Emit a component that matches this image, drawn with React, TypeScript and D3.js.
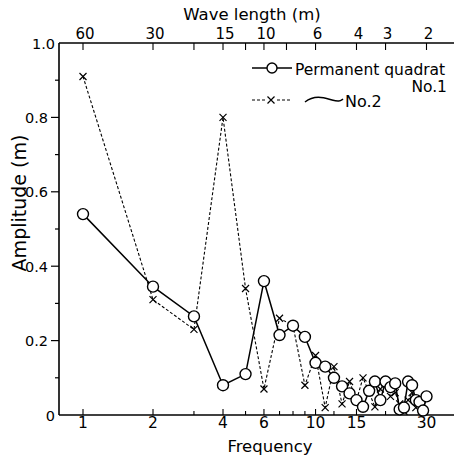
import * as d3 from 'd3';
import React, { useRef, useEffect } from 'react';

// frequency (harmonic number) and amplitude (m)
const freq1 = [1, 2, 3, 4, 5, 6, 7, 8, 9, 10, 11, 12, 13, 14, 15, 16, 17, 18, 19, 20, 21, 22, 23, 24, 25, 26, 27, 28, 29, 30];
const quadrat1 = [0.54, 0.345, 0.265, 0.08, 0.11, 0.36, 0.215, 0.24, 0.21, 0.14, 0.13, 0.1, 0.077, 0.058, 0.04, 0.022, 0.065, 0.09, 0.04, 0.09, 0.075, 0.085, 0.015, 0.02, 0.09, 0.08, 0.04, 0.035, 0.012, 0.05];

const freq2 = [1, 2, 3, 4, 5, 6, 7, 8, 9, 10, 11, 12, 13, 14, 15, 16, 17, 18, 19, 20, 21, 22, 23, 24, 25, 26, 27, 28, 29];
const quadrat2 = [0.91, 0.31, 0.23, 0.8, 0.34, 0.07, 0.26, 0.24, 0.08, 0.16, 0.02, 0.13, 0.03, 0.09, 0.04, 0.1, 0.06, 0.022, 0.07, 0.09, 0.05, 0.06, 0.03, 0.01, 0.04, 0.06, 0.02, 0.04, 0.03];

const freqLabels = [1, 2, 4, 6, 10, 15, 30];
const freqTicks = [1, 2, 3, 4, 5, 6, 7, 8, 9, 10, 12, 15, 20, 30];
const waveLabels = [60, 30, 15, 10, 6, 4, 3, 2];
const waveTicks = [60, 30, 20, 15, 12, 10, 8, 6, 4, 3, 2];
const ampTicks = [0, 0.2, 0.4, 0.6, 0.8, 1.0];
const ampMinor = [0.1, 0.3, 0.5, 0.7, 0.9];

const FONT = 'DejaVu Sans, sans-serif';

function SpectrumChart({ width, height }) {
  const ref = useRef(null);

  useEffect(() => {
    const svg = d3.select(ref.current);
    svg.selectAll('*').remove();
    svg.attr('width', width).attr('height', height);

    const left = 59, top = 43, bottom = 415, right = width;

    const x = d3.scaleLog().domain([1, 30]).range([83, 426.5]);
    const y = d3.scaleLinear().domain([0, 1]).range([bottom, top]);

    const g = svg.append('g').attr('font-family', FONT).attr('fill', '#000');

    // frame lines
    g.append('line').attr('x1', left).attr('x2', right).attr('y1', bottom).attr('y2', bottom)
      .attr('stroke', '#000').attr('stroke-width', 1.6);
    g.append('line').attr('x1', left).attr('x2', right).attr('y1', top).attr('y2', top)
      .attr('stroke', '#000').attr('stroke-width', 1.6);
    g.append('line').attr('x1', left).attr('x2', left).attr('y1', top).attr('y2', bottom)
      .attr('stroke', '#000').attr('stroke-width', 1.6);

    // left axis; 0 and 1.0 sit on the frame lines, no tick of their own
    const inner = ampTicks.filter(d => d > 0 && d < 1);
    g.selectAll('.ymaj').data(inner).enter().append('line')
      .attr('x1', left - 8).attr('x2', left)
      .attr('y1', d => y(d)).attr('y2', d => y(d))
      .attr('stroke', '#000').attr('stroke-width', 1.2);
    g.selectAll('.ymin').data(ampMinor).enter().append('line')
      .attr('x1', left - 4).attr('x2', left)
      .attr('y1', d => y(d)).attr('y2', d => y(d))
      .attr('stroke', '#000').attr('stroke-width', 1.2);
    g.selectAll('.ylab').data(ampTicks).enter().append('text')
      .attr('x', d => (d === 0 || d === 1) ? left - 4 : left - 11)
      .attr('y', d => y(d) + 5.5)
      .attr('text-anchor', 'end').attr('font-size', 14.5)
      .text(d => d === 0 ? '0' : d3.format('.1f')(d));

    // bottom axis (frequency)
    g.selectAll('.xt').data(freqTicks).enter().append('line')
      .attr('x1', d => x(d)).attr('x2', d => x(d))
      .attr('y1', bottom).attr('y2', d => bottom - (freqLabels.includes(d) ? 6 : 4))
      .attr('stroke', '#000').attr('stroke-width', 1.1);
    g.selectAll('.xl').data(freqLabels).enter().append('text')
      .attr('x', d => x(d)).attr('y', 428)
      .attr('text-anchor', 'middle').attr('font-size', 15.5)
      .text(d => d);
    g.append('text').attr('x', 270).attr('y', 452).attr('text-anchor', 'middle')
      .attr('font-size', 16.5).text('Frequency');

    // top axis (wave length = 60 / frequency)
    g.selectAll('.wt').data(waveTicks).enter().append('line')
      .attr('x1', d => x(60 / d)).attr('x2', d => x(60 / d))
      .attr('y1', top).attr('y2', top + 7)
      .attr('stroke', '#000').attr('stroke-width', 1.1);
    g.selectAll('.wl').data(waveLabels).enter().append('text')
      .attr('x', d => x(60 / d) + 2).attr('y', 39)
      .attr('text-anchor', 'middle').attr('font-size', 15)
      .text(d => d);
    g.append('text').attr('x', 252).attr('y', 19.5).attr('text-anchor', 'middle')
      .attr('font-size', 16.5).text('Wave length (m)');

    // y title
    g.append('text').attr('transform', 'translate(26,203) rotate(-90)')
      .attr('text-anchor', 'middle').attr('font-size', 19).text('Amplitude (m)');

    // series 2, dashed with crosses
    const pts2 = freq2.map((f, i) => [x(f), y(quadrat2[i])]);
    g.append('path').attr('d', d3.line()(pts2))
      .attr('fill', 'none').attr('stroke', '#000').attr('stroke-width', 1.1)
      .attr('stroke-dasharray', '3,2');
    const cross = (sel, cx, cy) => {
      const s = 3.5;
      sel.append('path')
        .attr('d', `M${cx - s},${cy - s}L${cx + s},${cy + s}M${cx - s},${cy + s}L${cx + s},${cy - s}`)
        .attr('stroke', '#000').attr('stroke-width', 1.2);
    };
    pts2.forEach(p => cross(g, p[0], p[1]));

    // series 1, solid with open circles
    const pts1 = freq1.map((f, i) => [x(f), y(quadrat1[i])]);
    g.append('path').attr('d', d3.line()(pts1))
      .attr('fill', 'none').attr('stroke', '#000').attr('stroke-width', 1.5);
    g.selectAll('.c1').data(pts1).enter().append('circle')
      .attr('cx', d => d[0]).attr('cy', d => d[1]).attr('r', 5.5)
      .attr('fill', '#fff').attr('stroke', '#000').attr('stroke-width', 1.4);

    // legend
    g.append('line').attr('x1', 252).attr('x2', 292).attr('y1', 68).attr('y2', 68)
      .attr('stroke', '#000').attr('stroke-width', 1.5);
    g.append('circle').attr('cx', 272).attr('cy', 68).attr('r', 5)
      .attr('fill', '#fff').attr('stroke', '#000').attr('stroke-width', 1.4);
    g.append('text').attr('x', 295).attr('y', 75).attr('font-size', 15.5).text('Permanent quadrat');
    g.append('text').attr('x', 447).attr('y', 92).attr('text-anchor', 'end').attr('font-size', 15.5).text('No.1');
    g.append('line').attr('x1', 252).attr('x2', 290).attr('y1', 100).attr('y2', 100)
      .attr('stroke', '#000').attr('stroke-width', 1.1).attr('stroke-dasharray', '3,2');
    g.append('rect').attr('x', 266).attr('y', 95).attr('width', 10).attr('height', 10).attr('fill', '#fff');
    cross(g, 271, 100);
    g.append('path').attr('d', 'M305,102 C315,94 325,98 332,100 S340,101 343,99')
      .attr('fill', 'none').attr('stroke', '#000').attr('stroke-width', 1.5);
    g.append('text').attr('x', 345).attr('y', 107).attr('font-size', 16).text('No.2');
  });

  return (
    <div className="chart">
      <svg ref={ref} style={{ display: 'block' }}></svg>
    </div>
  );
}

export default function App() {
  return (
    <div style={{ position: 'absolute', left: 0, top: 0, background: '#fff' }}>
      <SpectrumChart width={454} height={457} />
    </div>
  );
}
